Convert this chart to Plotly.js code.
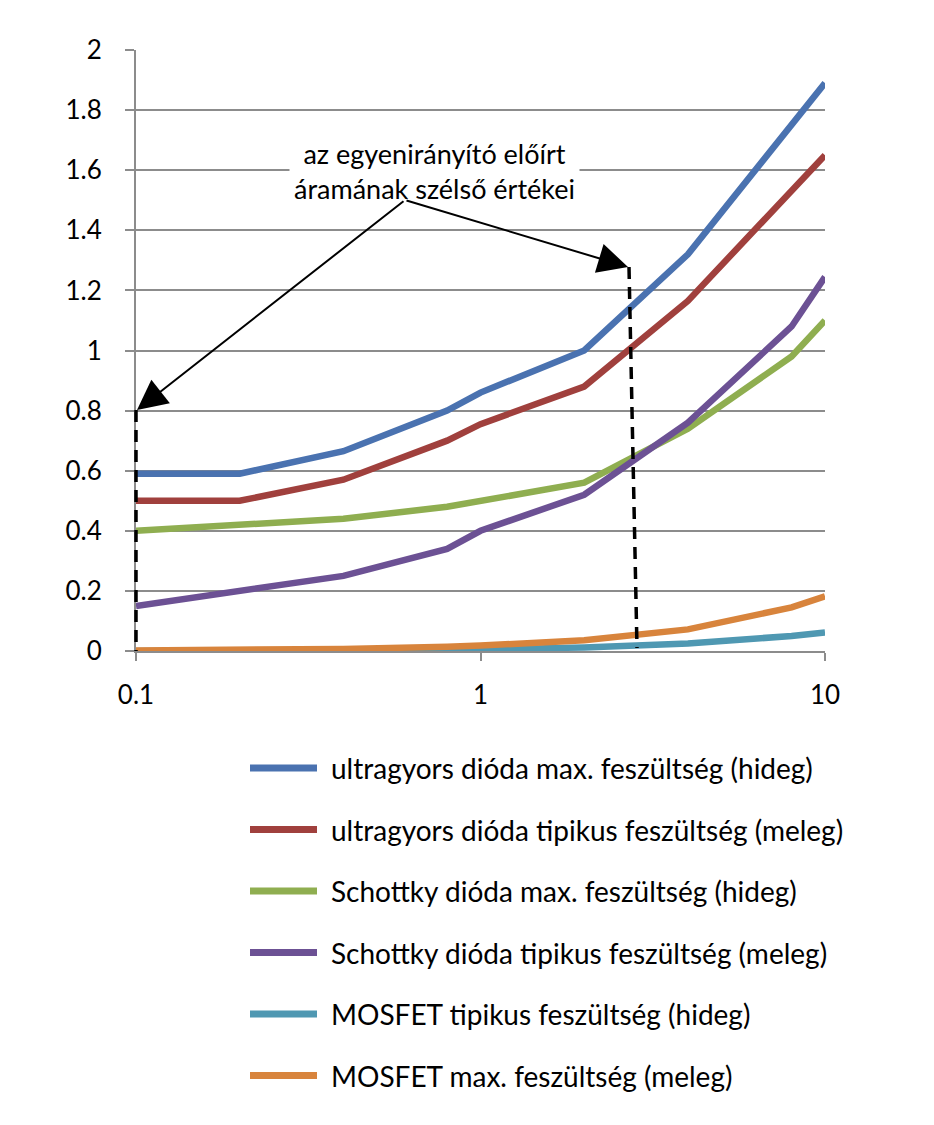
<!DOCTYPE html>
<html>
<head>
<meta charset="utf-8">
<script src="https://cdn.plot.ly/plotly-3.0.1.min.js"></script>
<style>
  body { margin: 0; background: #fff; }
  #chart { width: 934px; height: 1125px; }
</style>
</head>
<body>
<div id="chart"></div>
<script>
// current (A), log scale
const current = [0.1, 0.2, 0.4, 0.8, 1, 2, 4, 8, 10];

// forward voltage (V)
const ultraMaxCold = [0.59, 0.59, 0.665, 0.80, 0.86, 1.00, 1.32, 1.75, 1.89];
const ultraTypWarm = [0.50, 0.50, 0.57, 0.70, 0.755, 0.88, 1.165, 1.53, 1.65];
const schottkyMaxCold = [0.40, 0.42, 0.44, 0.48, 0.50, 0.56, 0.74, 0.98, 1.10];
const schottkyTypWarm = [0.15, 0.20, 0.25, 0.34, 0.40, 0.52, 0.76, 1.08, 1.245];
const mosfetTypCold = [0.0, 0.0, 0.001, 0.003, 0.005, 0.012, 0.025, 0.05, 0.062];
const mosfetMaxWarm = [0.002, 0.004, 0.007, 0.014, 0.018, 0.036, 0.072, 0.145, 0.182];

const seriesNames = [
  "ultragyors dióda max. feszültség (hideg)",
  "ultragyors dióda tipikus feszültség (meleg)",
  "Schottky dióda max. feszültség (hideg)",
  "Schottky dióda tipikus feszültség (meleg)",
  "MOSFET tipikus feszültség (hideg)",
  "MOSFET max. feszültség (meleg)",
];
const seriesValues = [ultraMaxCold, ultraTypWarm, schottkyMaxCold, schottkyTypWarm, mosfetTypCold, mosfetMaxWarm];
const seriesColors = ["#4a72b0", "#a0403d", "#8fae50", "#6c5194", "#4f98b2", "#d8843c"];

const noteText = "az egyenirányító előírt<br>áramának szélső értékei";

// plot area in pixels: x 136..825, y 50..651
const L = 136, R = 825, T = 50, B = 651;
const px = (x) => (x - L) / (R - L);
const py = (y) => (B - y) / (B - T);

const font = "Lato, 'Open Sans', sans-serif";

const data = seriesValues.map((vals, i) => ({
  x: current,
  y: vals,
  type: "scatter",
  mode: "lines",
  name: seriesNames[i],
  line: { color: seriesColors[i], width: 6.5 },
  hoverinfo: "x+y",
}));

const shapes = [
  // dashed markers of the rectifier current limits
  { type: "line", xref: "paper", yref: "paper", x0: px(136), y0: py(410), x1: px(136), y1: py(651),
    line: { color: "#000", width: 3.5, dash: "12px,8px" } },
  { type: "line", xref: "paper", yref: "paper", x0: px(629), y0: py(267), x1: px(637), y1: py(648),
    line: { color: "#000", width: 3.5, dash: "12px,8px" } },
];

const annotations = [
  { xref: "paper", yref: "paper", x: px(434), y: py(171), xanchor: "center", yanchor: "middle",
    text: noteText, showarrow: false,
    font: { family: font, size: 27, color: "#000" }, bgcolor: "#fff", borderpad: 4 },
  { xref: "paper", yref: "paper", x: px(137), y: py(410), text: "", showarrow: true,
    ax: 405 - 137, ay: 200 - 410, arrowhead: 2, arrowsize: 3, arrowwidth: 2, arrowcolor: "#000", standoff: 0 },
  { xref: "paper", yref: "paper", x: px(628), y: py(267), text: "", showarrow: true,
    ax: 405 - 628, ay: 200 - 267, arrowhead: 2, arrowsize: 3, arrowwidth: 2, arrowcolor: "#000", standoff: 0 },
];

// hand-drawn legend below the plot
seriesNames.forEach((name, i) => {
  const rowY = 768 + i * 61.5;
  shapes.push({ type: "line", xref: "paper", yref: "paper", x0: px(250), x1: px(317), y0: py(rowY), y1: py(rowY),
    line: { color: seriesColors[i], width: 7 } });
  annotations.push({ xref: "paper", yref: "paper", x: px(329), y: py(rowY), xanchor: "left", yanchor: "middle",
    text: name, showarrow: false, font: { family: font, size: 28, color: "#000" } });
});

const layout = {
  width: 934,
  height: 1125,
  margin: { l: L, r: 934 - R, t: T, b: 1125 - B },
  paper_bgcolor: "#fff",
  plot_bgcolor: "#fff",
  showlegend: false,
  font: { family: font, size: 26, color: "#000" },
  xaxis: {
    type: "log",
    range: [-1, 1],
    tickvals: [0.1, 1, 10],
    ticktext: ["0.1", "1", "10"],
    showgrid: false,
    zeroline: false,
    showline: true,
    linecolor: "#8c8c8c",
    linewidth: 2,
    ticks: "outside",
    ticklen: 8,
    tickwidth: 2,
    tickcolor: "#8c8c8c",
    ticklabelstandoff: 12,
    tickfont: { family: font, size: 26, color: "#000" },
  },
  yaxis: {
    range: [0, 2],
    dtick: 0.2,
    showgrid: true,
    gridcolor: "#8c8c8c",
    gridwidth: 2,
    zeroline: false,
    showline: true,
    linecolor: "#8c8c8c",
    linewidth: 2,
    ticks: "outside",
    ticklen: 9,
    tickwidth: 2,
    tickcolor: "#8c8c8c",
    ticklabelstandoff: 18,
    tickfont: { family: font, size: 26, color: "#000" },
  },
  shapes: shapes,
  annotations: annotations,
};

Plotly.newPlot("chart", data, layout, { staticPlot: true });
</script>
</body>
</html>
